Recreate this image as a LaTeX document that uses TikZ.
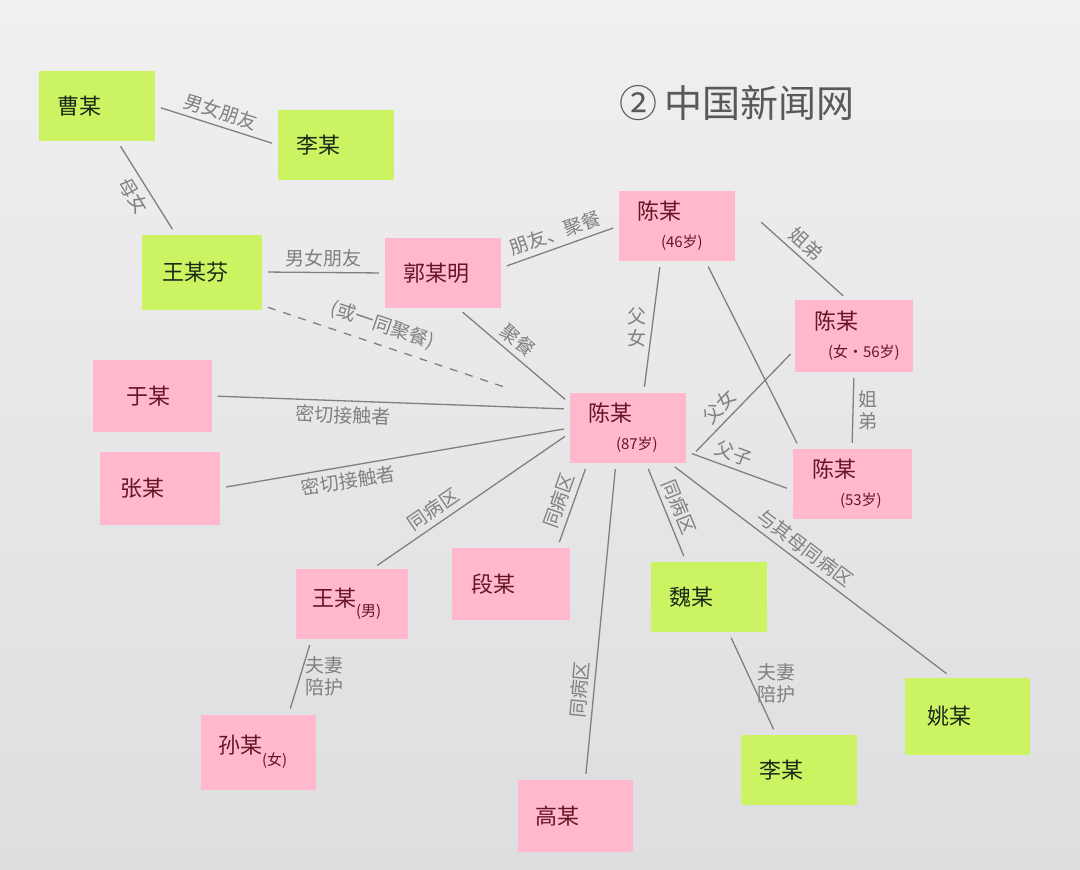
\documentclass[tikz,border=0pt]{standalone}
\usepackage{fontspec}
\setmainfont{Noto Sans CJK SC}
\usetikzlibrary{positioning}

\definecolor{paper}{RGB}{240,240,241}
\definecolor{paperdark}{RGB}{222,222,225}
\definecolor{notepink}{RGB}{255,184,204}
\definecolor{notegreen}{RGB}{204,244,98}
\definecolor{inkred}{RGB}{105,20,38}
\definecolor{inkdark}{RGB}{30,40,25}
\definecolor{pencil}{RGB}{128,128,128}

\newcommand{\agefont}{\fontsize{15}{17}\selectfont}

\begin{document}
\begin{tikzpicture}[x=1pt,y=-1pt,
	note/.style={rectangle, minimum width=116pt, minimum height=70pt, text width=80pt, align=left, font=\fontsize{22}{26}\selectfont},
	pinknote/.style={note, fill=notepink, text=inkred},
	greennote/.style={note, fill=notegreen, text=inkdark},
	link/.style={draw=pencil, line width=1.3pt, shorten <=6pt, shorten >=6pt},
	linklabel/.style={text=pencil, font=\fontsize{19}{22}\selectfont, inner sep=5pt, align=center}]

	% paper
	\shade [top color=paper, bottom color=paperdark] (0,0) rectangle (1080,870);
	\node [text=black!65, font=\fontsize{38}{40}\selectfont] (title) at (737,103) {②\,中国新闻网};

	% green notes
	\node [greennote] (cao) at (97,106) {曹某};
	\node [greennote] (li1) at (336,145) {李某};
	\node [greennote, minimum width=120pt, minimum height=75pt] (wangfen) at (202,272) {王某芬};
	\node [greennote] (wei) at (709,597) {魏某};
	\node [greennote] (li2) at (799,770) {李某};
	\node [greennote, minimum width=125pt, minimum height=77pt] (yao) at (967,716) {姚某};

	% pink notes
	\node [pinknote] (guo) at (443,273) {郭某明};
	\node [pinknote] (chen46) at (677,226) {陈某\\[2pt]\hspace*{24pt}{\agefont (46岁)}};
	\node [pinknote, minimum width=118pt, minimum height=72pt] (chen56) at (854,336) {陈某\\[2pt]\hspace*{14pt}{\agefont (女·56岁)}};
	\node [pinknote, minimum width=119pt] (chen53) at (852,484) {陈某\\[2pt]\hspace*{28pt}{\agefont (53岁)}};
	\node [pinknote] (chen87) at (628,428) {陈某\\[2pt]\hspace*{28pt}{\agefont (87岁)}};
	\node [pinknote, minimum width=119pt, minimum height=72pt] (yu) at (152,396) {\hspace*{14pt}于某};
	\node [pinknote, minimum width=120pt, minimum height=73pt] (zhang) at (160,488) {张某};
	\node [pinknote, minimum width=112pt] (wangm) at (352,604) {王某\raisebox{-10pt}{\agefont (男)}};
	\node [pinknote, minimum width=118pt, minimum height=72pt] (duan) at (511,584) {段某};
	\node [pinknote, minimum width=115pt, minimum height=75pt] (sun) at (258,752) {孙某\raisebox{-12pt}{\agefont (女)}};
	\node [pinknote, minimum width=115pt, minimum height=72pt] (gao) at (575,816) {高某};

	% upper left group
	\draw [link] (cao.east) -- node [linklabel, above, sloped] (lcaoli) {男女朋友} (li1.west);
	\draw [link] (cao.-60) -- node [linklabel, below, sloped] (lcaowang) {母女} (wangfen.125);
	\draw [link] (wangfen.east) -- node [linklabel, above] (lwangguo) {男女朋友} (guo.west);
	\draw [link] (guo.5) -- node [linklabel, above, sloped] (lguochen) {朋友、聚餐} (chen46.west);
	\draw [link, dash pattern=on 8pt off 8pt, shorten >=70pt] (wangfen.-29) -- node [linklabel, above, sloped, pos=0.37, inner sep=9pt] (lwangchen) {(或一同聚餐)} (chen87.162);
	\draw [link] (guo.-67) -- node [linklabel, above, sloped, pos=0.45] (lguojv) {聚餐} (chen87.157);

	% the Chen family
	\draw [link] (chen46.-115) -- node [linklabel, left] (lfather1) {父\\女} (chen87.66);
	\draw [link] (chen46.-51) -- (chen53.146);
	\draw [link, shorten <=35pt] (chen46.25) -- node [linklabel, above, sloped, pos=0.55] (lsis1) {姐弟} (chen56.100);
	\draw [link] (chen56.south) -- node [linklabel, right] (lsis2) {姐\\弟} (chen53.north);
	\draw [link, shorten <=14pt] (chen87.-30) -- node [linklabel, above, sloped, pos=0.4] (lfather2) {父女} (chen56.-167);
	\draw [link] (chen87.-22) -- node [linklabel, above, sloped, pos=0.4] (lfather3) {父子} (chen53.-174);

	% contacts
	\draw [link] (yu.east) -- node [linklabel, below, sloped, pos=0.37] (lyu) {密切接触者} (chen87.162);
	\draw [link] (zhang.east) -- node [linklabel, below, sloped, pos=0.36] (lzhang) {密切接触者} (chen87.west);
	\draw [link] (wangm.60) -- node [linklabel, above, sloped, pos=0.35] (lwangm) {同病区} (chen87.185);
	\draw [link] (duan.38) -- node [linklabel, above, sloped] (lduan) {同病区} (chen87.-139);
	\draw [link] (gao.74) -- node [linklabel, above, sloped, pos=0.28] (lgao) {同病区} (chen87.-109);
	\draw [link] (chen87.-63) -- node [linklabel, above, sloped] (lwei) {同病区} (wei.123);
	\draw [link] (chen87.-40) -- node [linklabel, above, sloped, pos=0.45] (lyao) {与其母同病区} (yao.112);

	% carers
	\draw [link] (wangm.-139) -- node [linklabel, right] (lsun) {夫妻\\陪护} (sun.51);
	\draw [link] (wei.-61) -- node [linklabel, right] (lli2) {夫妻\\陪护} (li2.123);
\end{tikzpicture}
\end{document}
